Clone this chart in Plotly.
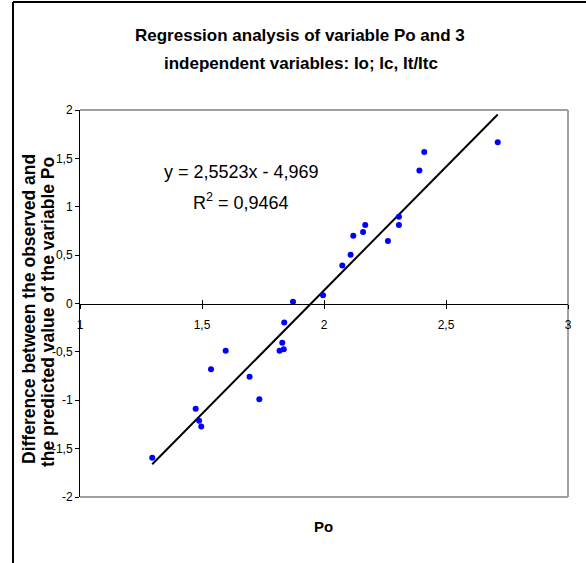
import plotly.graph_objects as go

# ---- data ----
po = [2.712, 2.411, 2.391, 2.307, 2.307, 2.262, 2.169, 2.160, 2.120, 2.109,
      2.075, 1.996, 1.873, 1.837, 1.829, 1.818, 1.835, 1.597, 1.537, 1.695,
      1.735, 1.474, 1.488, 1.497, 1.296]
diff = [1.667, 1.567, 1.374, 0.897, 0.811, 0.646, 0.811, 0.739, 0.701, 0.505,
        0.392, 0.086, 0.017, -0.196, -0.405, -0.488, -0.474, -0.488, -0.680, -0.756,
        -0.990, -1.089, -1.213, -1.272, -1.594]
slope = 2.5523
intercept = -4.969
r2 = 0.9464

x_tickvals = [1, 1.5, 2, 2.5, 3]
x_ticktext = ["1", "1,5", "2", "2,5", "3"]
y_tickvals = [2, 1.5, 1, 0.5, 0, -0.5, -1, -1.5, -2]
y_ticktext = ["2", "1,5", "1", "0,5", "0", "-0,5", "-1", "-1,5", "-2"]

title_lines = ["Regression analysis of variable Po and 3", "independent variables: Io; Ic, It/Itc"]
ytitle_lines = ["Difference between the observed and", "the predicted value of the variable Po"]
xtitle = "Po"
eq_text = "y = 2,5523x - 4,969"
r2_text = "R<sup>2</sup> = 0,9464"

W, H = 586, 563
L, R, T, B = 80, 568, 110, 497  # plot area in pixels
FONT = "Liberation Sans, Arial, sans-serif"


def px(xp):
    return (xp - L) / (R - L)


def py(yp):
    return (B - yp) / (B - T)


xmin, xmax = min(po), max(po)
fig = go.Figure()
fig.add_trace(go.Scatter(x=[xmin, xmax], y=[slope * xmin + intercept, slope * xmax + intercept],
                         mode="lines", line=dict(color="black", width=2), hoverinfo="skip",
                         showlegend=False))
fig.add_trace(go.Scatter(x=po, y=diff, mode="markers",
                         marker=dict(color="#0000FF", size=6), showlegend=False))
# overlay axis for upward tick halves
fig.add_trace(go.Scatter(x=[1, 3], y=[0, 0], xaxis="x2", mode="lines",
                         line=dict(width=0), hoverinfo="skip", showlegend=False))

axis_font = dict(family=FONT, size=12, color="black")
fig.update_layout(
    width=W, height=H,
    margin=dict(l=L, r=W - R, t=T, b=H - B),
    paper_bgcolor="white", plot_bgcolor="white",
    showlegend=False,
    xaxis=dict(range=[1, 3], tickvals=x_tickvals, ticktext=x_ticktext,
               showgrid=False, zeroline=False, showline=True, linecolor="black", linewidth=1,
               ticks="outside", ticklen=4, tickcolor="black", tickfont=axis_font,
               anchor="free", position=0.5, ticklabelstandoff=6),
    xaxis2=dict(range=[1, 3], tickvals=x_tickvals, showticklabels=False, overlaying="x",
                showgrid=False, zeroline=False, showline=False,
                ticks="inside", ticklen=4, tickcolor="black",
                anchor="free", position=0.5, side="bottom"),
    yaxis=dict(range=[-2, 2], tickvals=y_tickvals, ticktext=y_ticktext,
               showgrid=False, zeroline=False, showline=True, linecolor="black", linewidth=1,
               ticks="outside", ticklen=4, tickcolor="black", tickfont=axis_font),
)

shapes = []
gray = "#a0a0a0"
# plot area border (top, right, bottom)
shapes.append(dict(type="line", xref="paper", yref="paper", x0=0, x1=1, y0=1, y1=1,
                   line=dict(color=gray, width=2), layer="below"))
shapes.append(dict(type="line", xref="paper", yref="paper", x0=1, x1=1, y0=0, y1=1,
                   line=dict(color=gray, width=2), layer="below"))
shapes.append(dict(type="line", xref="paper", yref="paper", x0=0, x1=1, y0=0, y1=0,
                   line=dict(color=gray, width=2), layer="below"))
# outer chart border (left and top)
shapes.append(dict(type="line", xref="paper", yref="paper", x0=px(13), x1=px(13), y0=py(2), y1=py(575),
                   line=dict(color="black", width=2)))
shapes.append(dict(type="line", xref="paper", yref="paper", x0=px(13), x1=px(600), y0=py(2), y1=py(2),
                   line=dict(color="black", width=2)))
fig.update_layout(shapes=shapes)

ann = []
tfont = dict(family=FONT, size=17, color="black")
ann.append(dict(text="<b>%s</b>" % title_lines[0], x=px(300), y=py(36), xref="paper", yref="paper",
                showarrow=False, font=tfont, xanchor="center", yanchor="middle"))
ann.append(dict(text="<b>%s</b>" % title_lines[1], x=px(301), y=py(63), xref="paper", yref="paper",
                showarrow=False, font=tfont, xanchor="center", yanchor="middle"))
yfont = dict(family=FONT, size=17.5, color="black")
ann.append(dict(text="<b>%s</b>" % ytitle_lines[0], x=px(29), y=py(309), xref="paper", yref="paper",
                showarrow=False, font=yfont, textangle=-90, xanchor="center", yanchor="middle"))
ann.append(dict(text="<b>%s</b>" % ytitle_lines[1], x=px(48), y=py(312), xref="paper", yref="paper",
                showarrow=False, font=yfont, textangle=-90, xanchor="center", yanchor="middle"))
ann.append(dict(text="<b>%s</b>" % xtitle, x=px(323), y=py(526), xref="paper", yref="paper",
                showarrow=False, font=dict(family=FONT, size=15, color="black"),
                xanchor="center", yanchor="middle"))
efont = dict(family=FONT, size=18, color="black")
ann.append(dict(text=eq_text, x=px(241), y=py(172), xref="paper", yref="paper",
                showarrow=False, font=efont, xanchor="center", yanchor="middle"))
ann.append(dict(text=r2_text, x=px(241), y=py(201), xref="paper", yref="paper",
                showarrow=False, font=efont, xanchor="center", yanchor="middle"))
fig.update_layout(annotations=ann)

fig.write_html("out.html")
